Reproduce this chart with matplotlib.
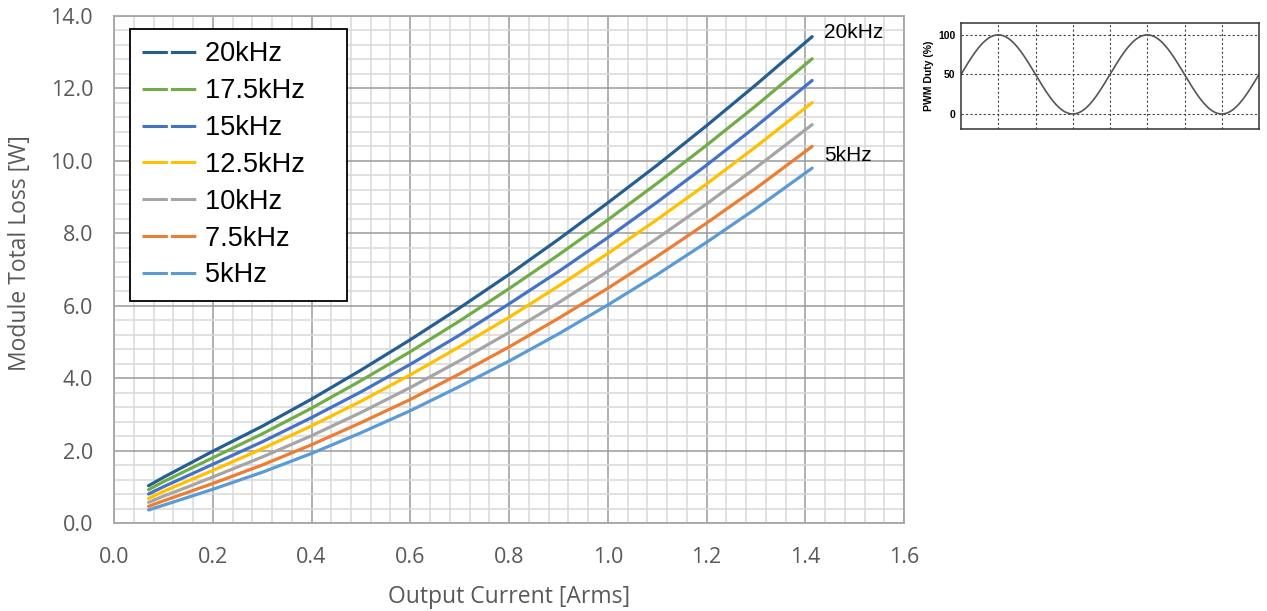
import numpy as np
import matplotlib
matplotlib.use("Agg")
import matplotlib.pyplot as plt
from matplotlib.lines import Line2D
from matplotlib.ticker import MultipleLocator


current = [0.07, 0.1, 0.15, 0.2, 0.3, 0.4, 0.5, 0.6, 0.7, 0.8, 0.9, 1.0, 1.1, 1.2, 1.3, 1.414]

# module total loss [W] per carrier frequency
loss_20k = [1.03, 1.26, 1.62, 1.98, 2.67, 3.42, 4.22, 5.06, 5.94, 6.86, 7.83, 8.84, 9.88, 10.97, 12.10, 13.43]
loss_17k5 = [0.92, 1.14, 1.47, 1.80, 2.46, 3.17, 3.93, 4.73, 5.58, 6.47, 7.40, 8.37, 9.38, 10.43, 11.52, 12.82]
loss_15k = [0.80, 1.00, 1.31, 1.62, 2.24, 2.91, 3.62, 4.38, 5.19, 6.05, 6.94, 7.88, 8.86, 9.88, 10.95, 12.22]
loss_12k5 = [0.68, 0.87, 1.16, 1.45, 2.05, 2.68, 3.36, 4.09, 4.87, 5.68, 6.54, 7.44, 8.38, 9.36, 10.39, 11.61]
loss_10k = [0.57, 0.74, 1.00, 1.27, 1.82, 2.41, 3.05, 3.74, 4.48, 5.26, 6.08, 6.95, 7.86, 8.81, 9.81, 11.00]
loss_7k5 = [0.46, 0.61, 0.85, 1.09, 1.60, 2.16, 2.77, 3.41, 4.12, 4.86, 5.65, 6.48, 7.36, 8.28, 9.24, 10.40]
loss_5k = [0.36, 0.49, 0.71, 0.93, 1.40, 1.92, 2.49, 3.10, 3.77, 4.47, 5.22, 6.02, 6.86, 7.75, 8.68, 9.80]

labels = ['20kHz', '17.5kHz', '15kHz', '12.5kHz', '10kHz', '7.5kHz', '5kHz']
colors = ['#255E91', '#70AD47', '#4472C4', '#FFC000', '#A5A5A5', '#ED7D31', '#5B9BD5']

# PWM duty waveform shown in the small inset (sine, 2 periods)
pwm_mid = 50
pwm_amp = 50
pwm_cycles = 2
pwm_ticks = [0, 50, 100]

GRAY_TXT = '#595959'

fig = plt.figure(figsize=(12.67, 6.11), dpi=100)

# ---- main chart ----
ax = fig.add_axes([114 / 1267, 88 / 611, 790 / 1267, 507 / 611])
series = [loss_20k, loss_17k5, loss_15k, loss_12k5, loss_10k, loss_7k5, loss_5k]
for ys, c in zip(series, colors):
    ax.plot(current, ys, color=c, lw=2.3, solid_capstyle='round', zorder=3)

ax.set_xlim(0, 1.6)
ax.set_ylim(0, 14)
ax.xaxis.set_major_locator(MultipleLocator(0.2))
ax.xaxis.set_minor_locator(MultipleLocator(0.04))
ax.yaxis.set_major_locator(MultipleLocator(2.0))
ax.yaxis.set_minor_locator(MultipleLocator(0.4))
ax.xaxis.set_major_formatter(lambda v, p: f'{v:.1f}')
ax.yaxis.set_major_formatter(lambda v, p: f'{v:.1f}')
ax.grid(which='minor', color='#D9D9D9', lw=1.1)
ax.grid(which='major', color='#9A9A9A', lw=1.1)
ax.set_axisbelow(True)
ax.tick_params(which='both', length=0)
ax.tick_params(axis='x', pad=17)
ax.tick_params(axis='y', pad=15)
for lab in ax.get_xticklabels() + ax.get_yticklabels():
    lab.set_fontfamily('Open Sans')
    lab.set_fontsize(15.5)
    lab.set_color(GRAY_TXT)
for s in ax.spines.values():
    s.set_color('#A6A6A6')
    s.set_linewidth(1.3)

ax.set_xlabel('Output Current [Arms]', fontfamily='Open Sans', fontsize=16.5,
              color=GRAY_TXT, va='center')
ax.set_ylabel('Module Total Loss [W]', fontfamily='Open Sans', fontsize=16.5,
              color=GRAY_TXT, va='center')
ax.xaxis.set_label_coords(0.5, -0.146)
ax.yaxis.set_label_coords(-0.119, 0.533)

# end labels
ax.text(1.438, 13.54, '20kHz', fontfamily='Liberation Sans', fontsize=15, va='center', ha='left')
ax.text(1.438, 10.14, '5kHz', fontfamily='Liberation Sans', fontsize=15, va='center', ha='left')

# legend with dashed handles like the original
handles = [Line2D([], [], color=c, lw=2.2, dashes=[8.3, 1.0]) for c in colors]
leg = ax.legend(handles, [l + '    ' for l in labels], loc='upper left',
                bbox_to_anchor=(0.02, 0.974), borderaxespad=0,
                prop={'family': 'Liberation Sans', 'size': 19.5},
                handlelength=2.0, handletextpad=0.33, labelspacing=0.4,
                borderpad=0.45, fancybox=False, framealpha=1, edgecolor='black')
leg.get_frame().set_linewidth(1.3)
leg.set_zorder(5)

# ---- PWM duty inset ----
ax2 = fig.add_axes([961 / 1267, (611 - 129) / 611, 298 / 1267, 106 / 611])
t = np.linspace(0, 4 * pwm_cycles, 400)
ax2.plot(t, pwm_mid + pwm_amp * np.sin(np.pi / 2 * t), color='#555555', lw=1.2)
ax2.set_xlim(0, 4 * pwm_cycles)
ax2.set_ylim(-19, 115)
ax2.set_xticks(np.arange(1, 4 * pwm_cycles))
ax2.set_yticks(pwm_ticks)
ax2.set_xticklabels([])
ax2.grid(True, color='#444444', lw=0.8, ls=(0, (2, 2)))
ax2.tick_params(length=0, pad=4)
for lab in ax2.get_yticklabels():
    lab.set_fontfamily(['Liberation Sans Narrow', 'Liberation Sans'])
    lab.set_fontweight('bold')
    lab.set_fontsize(7.5)
ax2.set_ylabel('PWM Duty (%)', fontfamily=['Liberation Sans Narrow', 'Liberation Sans'],
               fontweight='bold', fontsize=7.5, labelpad=3)
for s in ax2.spines.values():
    s.set_color('#333333')
    s.set_linewidth(1.1)

fig.savefig('out.png', dpi=100)
